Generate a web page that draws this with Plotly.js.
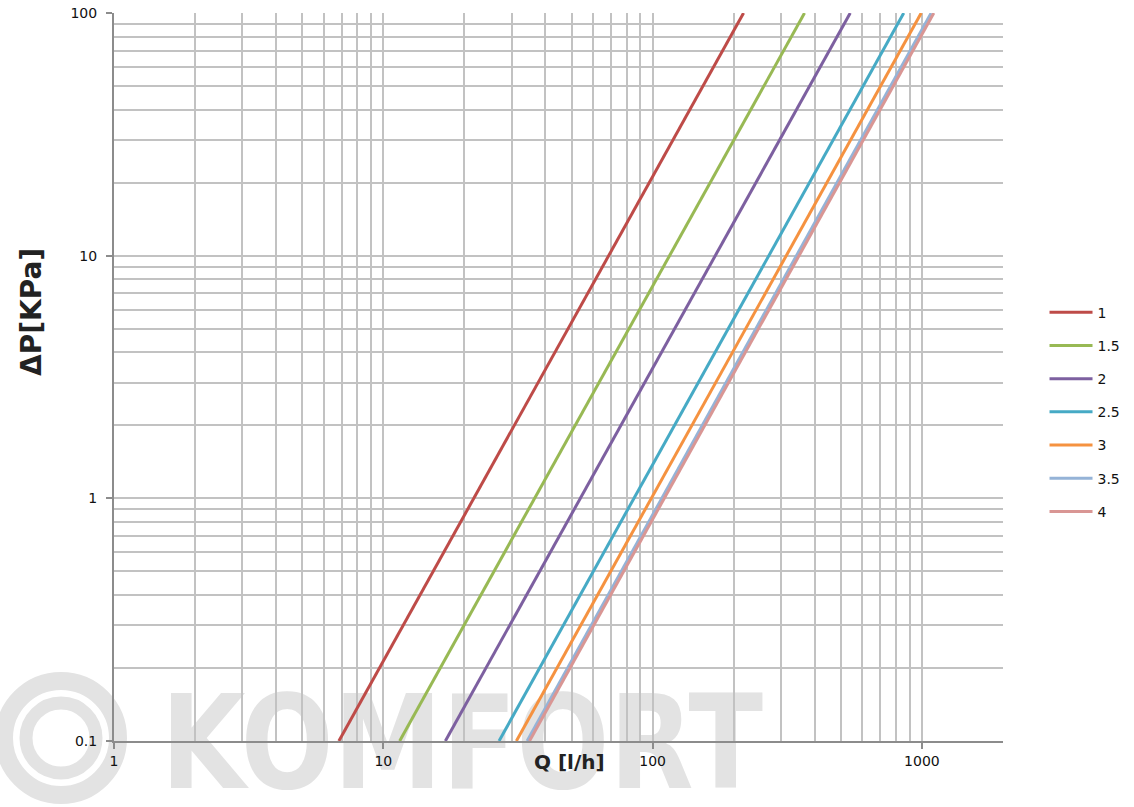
<!DOCTYPE html>
<html><head><meta charset="utf-8">
<script src="https://cdn.plot.ly/plotly-3.0.1.min.js"></script>
<style>
body{margin:0;background:#fff;}
#wrap{position:relative;width:1134px;height:807px;overflow:hidden;background:#fff;}
#wm{position:absolute;left:0;top:0;z-index:0;}
#chart{position:absolute;left:0;top:0;width:1134px;height:807px;z-index:1;}
</style></head><body>
<div id="wrap">
<svg id="wm" width="1134" height="807">
 <circle cx="61" cy="738" r="57" fill="none" stroke="#e3e3e3" stroke-width="18"/>
 <circle cx="61" cy="738" r="35" fill="none" stroke="#e3e3e3" stroke-width="13"/>
 <text transform="translate(161,788) scale(1,1.2)" x="0" y="0" font-family="DejaVu Sans, sans-serif" font-weight="bold" font-size="108" fill="#e3e3e3" textLength="602" lengthAdjust="spacingAndGlyphs">KOMFORT</text>
</svg>
<div id="chart"></div>
</div>
<script>
// Series names (legend labels)
const seriesNames = ['1', '1.5', '2', '2.5', '3', '3.5', '4'];
// Pressure drop endpoints of each straight line [kPa]
const dpLow = 0.1;
const dpHigh = 100;
// Flow Q [l/h] where each line crosses dP = 0.1 kPa
const qAtLow = [6.84, 11.5, 17.0, 26.9, 31.2, 34.2, 34.9];
// Flow Q [l/h] where each line crosses dP = 100 kPa
const qAtHigh = [217.6, 366.5, 541.7, 856, 994, 1082, 1107];
const colors = ['#BE4B48', '#98B954', '#7D60A0', '#46AAC5', '#F59240', '#95B3D7', '#D99694'];

const xMajor = [1, 10, 100, 1000];
const xMinor = [2,3,4,5,6,7,8,9,20,30,40,50,60,70,80,90,200,300,400,500,600,700,800,900,2000];
const yMajor = [0.1, 1, 10, 100];
const yMinor = [0.2,0.3,0.4,0.5,0.6,0.7,0.8,0.9,2,3,4,5,6,7,8,9,20,30,40,50,60,70,80,90];

const traces = seriesNames.map((n, i) => ({
  type: 'scatter', mode: 'lines', name: n,
  x: [qAtLow[i], qAtHigh[i]], y: [dpLow, dpHigh],
  line: {color: colors[i], width: 3},
  legendgroup: 'g' + i
}));

const gridColor = '#c2c2c2';
const axisColor = '#8c8c8c';
const tickFont = {family: 'DejaVu Sans', size: 14, color: '#111'};

const layout = {
  width: 1134, height: 807,
  margin: {l: 114, r: 131, t: 13, b: 66, autoexpand: false},
  paper_bgcolor: 'rgba(0,0,0,0)', plot_bgcolor: 'rgba(0,0,0,0)',
  showlegend: true,
  legend: {x: 1.0467, xanchor: 'left', y: 0.6104, yanchor: 'top',
    font: {family: 'DejaVu Sans', size: 14, color: '#111'},
    tracegroupgap: 12, itemwidth: 43, bgcolor: 'rgba(0,0,0,0)'},
  xaxis: {type: 'log', range: [0, 3.30104],
    tickmode: 'array', tickvals: xMajor, ticktext: xMajor.map(String),
    ticks: 'outside', ticklen: 6, tickwidth: 2, tickcolor: axisColor,
    showgrid: true, gridcolor: gridColor, gridwidth: 2,
    showline: true, linecolor: axisColor, linewidth: 2,
    zeroline: false, tickfont: tickFont,
    minor: {tickmode: 'array', tickvals: xMinor, showgrid: true, gridcolor: gridColor, gridwidth: 2, ticks: ''}
  },
  yaxis: {type: 'log', range: [-1, 2.00001],
    tickmode: 'array', tickvals: yMajor, ticktext: ['0.1', '1', '10', '100'],
    ticks: 'outside', ticklen: 6, tickwidth: 2, tickcolor: axisColor,
    showgrid: true, gridcolor: gridColor, gridwidth: 2,
    showline: true, linecolor: axisColor, linewidth: 2,
    zeroline: false, tickfont: tickFont, ticklabelstandoff: 6,
    minor: {tickmode: 'array', tickvals: yMinor, showgrid: true, gridcolor: gridColor, gridwidth: 2, ticks: ''}
  },
  annotations: [
    {text: '<b>Q [l/h]</b>', xref: 'paper', yref: 'paper',
     x: (569 - 114) / 889, y: -(762 - 741) / 728, xanchor: 'center', yanchor: 'middle',
     showarrow: false, font: {family: 'DejaVu Sans', size: 20, color: '#222'}},
    {text: '<b>ΔP[KPa]</b>', xref: 'paper', yref: 'paper', textangle: -90,
     x: (31 - 114) / 889, y: (741 - 312) / 728, xanchor: 'center', yanchor: 'middle',
     showarrow: false, font: {family: 'DejaVu Sans', size: 28, color: '#222'}}
  ]
};

Plotly.newPlot('chart', traces, layout, {displayModeBar: false, staticPlot: true});
</script>
</body></html>
